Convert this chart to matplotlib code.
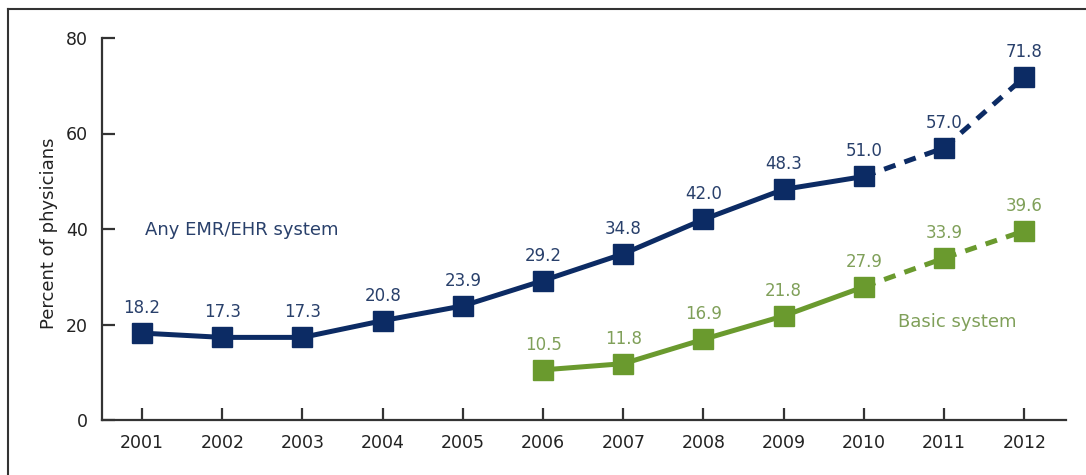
import matplotlib
matplotlib.use("Agg")
import matplotlib.pyplot as plt
from matplotlib.lines import Line2D

years = list(range(2001, 2013))
any_emr = [18.2, 17.3, 17.3, 20.8, 23.9, 29.2, 34.8, 42.0, 48.3, 51.0, 57.0, 71.8]
basic_years = list(range(2006, 2013))
basic = [10.5, 11.8, 16.9, 21.8, 27.9, 33.9, 39.6]
yticks = [0, 20, 40, 60, 80]

NAVY = "#0c2b64"
NAVY_TXT = "#29406b"
GREEN = "#6a9a2e"
GREEN_TXT = "#80a05a"
AXC = "#333333"

plt.rcParams['font.family'] = ['DejaVu Sans']

fig = plt.figure(figsize=(10.86, 4.75), dpi=100)
ax = fig.add_axes([102/1086, 1 - 420/475, (1066-102)/1086, (420-38)/475])

def draw_series(xs, ys, split_year, color):
    solid_x = [x for x in xs if x <= split_year]
    solid_y = ys[:len(solid_x)]
    dash_x = xs[len(solid_x)-1:]
    dash_y = ys[len(solid_x)-1:]
    ax.plot(solid_x, solid_y, color=color, lw=3.6, solid_capstyle='butt', zorder=2)
    ax.plot(dash_x, dash_y, color=color, lw=3.6, dashes=(2.4, 1.9), zorder=2)
    ax.plot(xs, ys, ls='none', marker='s', ms=15, color=color, mec=color, zorder=3)

draw_series(years, any_emr, 2010, NAVY)
draw_series(basic_years, basic, 2010, GREEN)

for x, y in zip(years, any_emr):
    ax.annotate(f"{y:.1f}", (x, y), xytext=(0, 18), textcoords='offset points',
                ha='center', va='center', fontsize=12, color=NAVY_TXT)
for x, y in zip(basic_years, basic):
    ax.annotate(f"{y:.1f}", (x, y), xytext=(0, 18), textcoords='offset points',
                ha='center', va='center', fontsize=12, color=GREEN_TXT)

ax.text(2001.04, 39.8, "Any EMR/EHR system", ha='left', va='center', fontsize=13, color=NAVY_TXT)
ax.text(2011.16, 20.5, "Basic system", ha='center', va='center', fontsize=13, color=GREEN_TXT)

ax.set_xlim(2000.5, 2012.52)
ax.set_ylim(0, 80)
ax.set_xticks(years)
ax.set_xticklabels([str(y) for y in years])
ax.set_yticks(yticks)
for s in ['top', 'right']:
    ax.spines[s].set_visible(False)
for s in ['left', 'bottom']:
    ax.spines[s].set_color(AXC)
    ax.spines[s].set_linewidth(1.6)
ax.tick_params(axis='both', direction='in', length=9, width=1.6, color=AXC,
               labelsize=12.5, labelcolor='#222222')
ax.tick_params(axis='x', pad=10)
ax.tick_params(axis='y', pad=10)
fig.text(49/1086, 1 - 233/475, "Percent of physicians", rotation=90, ha='center', va='center',
         fontsize=13, color='#222222')

# frame lines on figure
fig.add_artist(Line2D([8/1086, 8/1086], [0, 1 - 9/475], transform=fig.transFigure,
                      color='#333333', lw=1.5))
fig.add_artist(Line2D([8/1086, 1], [1 - 9/475, 1 - 9/475], transform=fig.transFigure,
                      color='#333333', lw=1.5))

fig.savefig("out.png", dpi=100)
